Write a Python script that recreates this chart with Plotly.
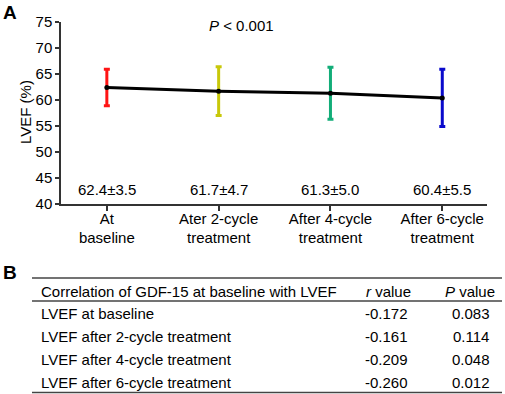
import plotly.graph_objects as go

categories = ["At<br>baseline", "Ater 2-cycle<br>treatment", "After 4-cycle<br>treatment", "After 6-cycle<br>treatment"]
means = [62.4, 61.7, 61.3, 60.4]
sds = [3.5, 4.7, 5.0, 5.5]
bar_colors = ["#ff1414", "#c8c80a", "#12ad78", "#0a0acc"]

table_header = ["Correlation of GDF-15 at baseline with LVEF", "<i>r</i> value", "<i>P</i> value"]
table_rows = ["LVEF at baseline", "LVEF after 2-cycle treatment",
              "LVEF after 4-cycle treatment", "LVEF after 6-cycle treatment"]
r_values = ["-0.172", "-0.161", "-0.209", "-0.260"]
p_values = ["0.083", "0.114", "0.048", "0.012"]

FONT = "Liberation Sans, Arial, sans-serif"
W, H = 505, 394
L, R, T, B = 61, 18, 22, 190
PW = W - L - R
PH = H - T - B


def px(x):
    return (x - L) / PW


def py(y):
    return (H - B - y) / PH


def note(x, y, text, size=15, xanchor="center", **kw):
    return dict(x=px(x), y=py(y), xref="paper", yref="paper", text=text,
                showarrow=False, xanchor=xanchor, yanchor="middle",
                font=dict(size=size, color="black", family=FONT), **kw)


fig = go.Figure()
xs = list(range(len(categories)))
for i in xs:
    fig.add_trace(go.Scatter(
        x=[xs[i]], y=[means[i]], mode="markers",
        marker=dict(size=1, color=bar_colors[i], opacity=0),
        error_y=dict(type="data", array=[sds[i]], color=bar_colors[i], thickness=3, width=3),
        showlegend=False, hoverinfo="skip"))
fig.add_trace(go.Scatter(
    x=xs, y=means, mode="lines+markers",
    line=dict(color="black", width=3), marker=dict(color="black", size=5),
    showlegend=False))

annotations = []
for i in xs:
    annotations.append(dict(x=xs[i], y=42.7, xref="x", yref="y",
                            text=f"{means[i]:.1f}±{sds[i]:.1f}", showarrow=False,
                            xanchor="center", yanchor="middle",
                            font=dict(size=15, color="black", family=FONT)))
annotations.append(note(241, 25, "<i>P</i> < 0.001"))
annotations.append(note(25, 112, "LVEF (%)", textangle=-90))
annotations.append(note(10, 13, "<b>A</b>", size=19))
annotations.append(note(10, 272, "<b>B</b>", size=19))

# table
annotations.append(note(39, 291, table_header[0], xanchor="left"))
annotations.append(note(388, 291, table_header[1]))
annotations.append(note(470, 291, table_header[2]))
row_y = [313, 336, 359, 382]
for i, name in enumerate(table_rows):
    annotations.append(note(39, row_y[i], name, xanchor="left"))
    annotations.append(note(386, row_y[i], r_values[i]))
    annotations.append(note(471, row_y[i], p_values[i]))

shapes = []
for yl in [278, 301, 392.5]:
    shapes.append(dict(type="line", xref="paper", yref="paper",
                       x0=px(32), x1=px(502), y0=py(yl), y1=py(yl),
                       line=dict(color="#444444", width=1.5)))

fig.update_layout(
    width=W, height=H,
    margin=dict(l=L, r=R, t=T, b=B),
    paper_bgcolor="white", plot_bgcolor="white",
    font=dict(family=FONT, size=15, color="black"),
    annotations=annotations, shapes=shapes,
    xaxis=dict(range=[-0.41, 3.4], tickvals=xs, ticktext=categories,
               showline=True, linecolor="#333333", linewidth=1.5,
               ticks="outside", ticklen=5, tickwidth=1.5, tickcolor="#333333",
               ticklabelstandoff=-5,
               showgrid=False, zeroline=False, automargin=False,
               tickfont=dict(size=15, color="black", family=FONT)),
    yaxis=dict(range=[40, 75], dtick=5, tick0=40,
               showline=True, linecolor="#333333", linewidth=1.5,
               ticks="outside", ticklen=4, tickwidth=1.5, tickcolor="#333333",
               showgrid=False, zeroline=False, automargin=False,
               tickfont=dict(size=15, color="black", family=FONT)),
)

fig.write_html("out.html", config={"displayModeBar": False},
               post_script="document.body.style.margin='0';document.body.style.overflow='hidden';")
